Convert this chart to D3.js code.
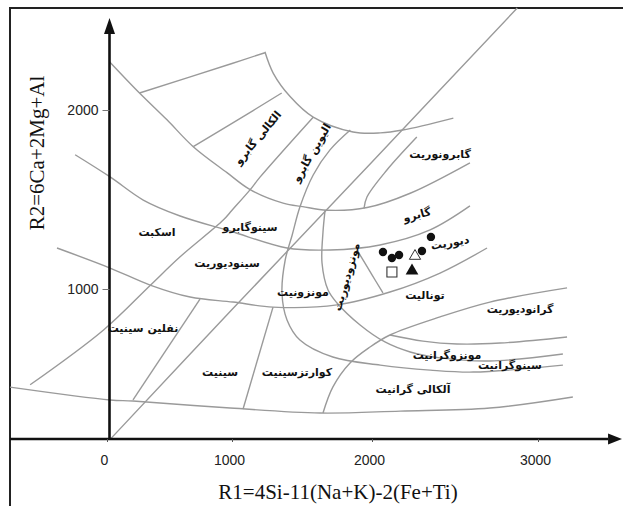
<!DOCTYPE html>
<html><head><meta charset="utf-8">
<script src="https://cdn.jsdelivr.net/npm/d3@7/dist/d3.min.js"></script>
<style>
html,body{margin:0;padding:0;background:#fff;}
svg{display:block;}
.fa{font-family:"DejaVu Sans",sans-serif;font-weight:bold;font-size:11px;fill:#111;}
</style></head>
<body>
<svg id="c" width="623" height="506"></svg>
<script>
// ---- tick labels ----
const xTicks = [0, 1000, 2000, 3000];
const yTicks = [1000, 2000];
const xTitle = "R1=4Si-11(Na+K)-2(Fe+Ti)";
const yTitle = "R2=6Ca+2Mg+Al";

// ---- field boundary curves (R1, R2) ----
const arcC = [[20,2270],[260,2095],[480,1945],[690,1795],[960,1650],[1130,1555],[1365,1480],[1505,1460],[1680,1440],[1965,1455],[2230,1535],[2590,1705]];
const lineA = [[260,2095],[1000,2260],[1235,2320]];
const lineB = [[690,1795],[1000,1925],[1355,2095]];
const arcD = [[1235,2325],[1295,2205],[1415,2075],[1580,1960],[1865,1877],[2050,1872],[2185,1888],[2490,1955]];
const lineDA = [[1580,1960],[1200,1625],[1130,1555],[1000,1440],[930,1385],[585,1180],[345,1020],[-30,770],[-615,465]];
const lineF = [[2875,2570],[2000,1710],[1000,885],[25,160]];
const arcK = [[1845,1888],[1700,1777],[1580,1637],[1485,1458],[1430,1302],[1380,1162],[1357,978],[1393,827],[1485,715],[1720,620],[2050,575],[2350,547],[2610,536],[3150,575]];
const arcM = [[1665,1441],[1650,1318],[1643,1145],[1686,994],[1750,922],[1915,799],[2078,704],[2230,648],[2410,615],[2710,598],[3150,637]];
const curve2 = [[1650,307],[1720,452],[1843,587],[1986,676],[2108,743],[2410,844],[2710,927],[3175,1006]];
const curve3 = [[2108,743],[2307,709],[2512,693],[2771,698],[3175,732]];
const lineN = [[2270,1849],[2090,1665],[1964,1514],[1943,1450]];
const lineP = [[1893,1218],[2000,1079],[2066,978]];
const curveE = [[-255,1750],[25,1626],[290,1497],[585,1408],[985,1324],[1393,1229],[1700,1218],[2048,1246],[2350,1330],[2590,1464]];
const curveG = [[-400,1229],[25,1117],[345,1022],[665,955],[1007,927],[1293,899],[1750,911],[2108,983],[2410,1089],[2693,1229]];
const curveH = [[-776,452],[25,380],[208,374],[985,335],[1630,307],[2170,318],[2710,335],[3210,397]];
const lineQ = [[744,944],[208,380]];
const lineR = [[1293,899],[1079,330]];
const boundaries = [arcC, lineA, lineB, arcD, lineDA, lineF, arcK, arcM, curve2, curve3, lineN, lineP, curveE, curveG, curveH, lineQ, lineR];

// ---- field names (R1, R2, angle) ----
const fieldNames = ["الکالی گابرو","الیوین گابرو","گابرونوریت","گابرو","دیوریت","تونالیت","گرانودیوریت","مونزوگرانیت","سینوگرانیت","آلکالی گرانیت","کوارتزسینیت","سینیت","مونزونیت","مونزودیوریت","سینودیوریت","سینوگابرو","اسکبت","نفلین سینیت"];
const fieldR1 = [1186,1571,2410,2271,2470,2319,2892,2452,2831,2247,1464,904,1507,1821,960,1129,400,288];
const fieldR2 = [1844,1760,1749,1413,1257,966,883,631,575,436,531,536,983,1067,1145,1346,1318,777];
const fieldAngle = [-50,-60,0,-15,-10,0,0,0,0,0,0,0,0,-74,0,0,0,0];

// ---- samples ----
const dotR1 = [2066,2355,2301,2120,2163];
const dotR2 = [1207,1291,1212,1173,1190];
const openTriR1 = [2259], openTriR2 = [1184];
const squareR1 = [2120], squareR2 = [1095];
const fillTriR1 = [2241], fillTriR2 = [1101];

// ---- axis placement values ----
const yAxisR1 = 20, xAxisR2 = 162;
const yAxisTop = 2514, yArrowBase = 2425;
const xAxisLeft = -776, xAxisRight = 3506, xArrowBase = 3422;

const svg = d3.select("#c");
const x = d3.scaleLinear().domain(xTicks).range([107,232,372,538]);
const y = d3.scaleLinear().domain(yTicks).range([289,110]);

// frame
svg.append("path").attr("d","M10,506 L10,8 L623,8").attr("fill","none").attr("stroke","#222").attr("stroke-width",2);

const line = d3.line().x(d=>x(d[0])).y(d=>y(d[1])).curve(d3.curveCatmullRom.alpha(0.5));
svg.append("g").selectAll("path").data(boundaries).join("path")
  .attr("d", line).attr("fill","none").attr("stroke","#9a9a9a").attr("stroke-width",1.4);

// axes lines
const ax = svg.append("g").attr("stroke","#111").attr("stroke-width",2.6);
ax.append("line").attr("x1",x(yAxisR1)).attr("x2",x(yAxisR1)).attr("y1",y(xAxisR2)).attr("y2",y(yArrowBase));
ax.append("line").attr("x1",x(xAxisLeft)).attr("x2",x(xArrowBase)).attr("y1",y(xAxisR2)).attr("y2",y(xAxisR2));
const ya = x(yAxisR1), yt = y(yAxisTop), yb = y(yArrowBase);
svg.append("path").attr("d",`M${ya},${yt} L${ya-5.5},${yb} L${ya+5.5},${yb} Z`).attr("fill","#111");
const xr = x(xAxisRight), xb = x(xArrowBase), xa = y(xAxisR2);
svg.append("path").attr("d",`M${xr},${xa} L${xb},${xa-5.5} L${xb},${xa+5.5} Z`).attr("fill","#111");

// ticks
const gx = svg.append("g").attr("transform",`translate(0,${y(xAxisR2)})`)
  .call(d3.axisBottom(x).tickValues(xTicks).tickSize(3).tickPadding(13).tickFormat(d3.format("d")));
gx.select(".domain").remove();
gx.selectAll("text").attr("font-family","Liberation Sans, Arial, sans-serif").attr("font-size",14).attr("fill","#222").attr("dx","-3");
gx.selectAll("line").attr("stroke","#555");
const gy = svg.append("g").attr("transform",`translate(${x(yAxisR1)},0)`)
  .call(d3.axisLeft(y).tickValues(yTicks).tickSize(7).tickPadding(4).tickFormat(d3.format("d")));
gy.select(".domain").remove();
gy.selectAll("text").attr("font-family","Liberation Sans, Arial, sans-serif").attr("font-size",14).attr("fill","#222");
gy.selectAll("line").attr("stroke","#777");

// titles
svg.append("text").attr("x",338).attr("y",499).attr("text-anchor","middle")
  .attr("font-family","Liberation Serif, Times New Roman, serif").attr("font-size",21).attr("fill","#111").text(xTitle);
svg.append("text").attr("transform","translate(44,153) rotate(-90)").attr("text-anchor","middle")
  .attr("font-family","Liberation Serif, Times New Roman, serif").attr("font-size",21).attr("fill","#111").text(yTitle);

// field names
svg.append("g").selectAll("text").data(fieldNames).join("text")
  .attr("class","fa").attr("text-anchor","middle").attr("dominant-baseline","central")
  .attr("transform",(d,i)=>`translate(${x(fieldR1[i])},${y(fieldR2[i])}) rotate(${fieldAngle[i]})`)
  .attr("direction","rtl")
  .text(d=>d);

// samples
const pts = svg.append("g");
pts.selectAll("circle").data(dotR1).join("circle")
  .attr("cx",d=>x(d)).attr("cy",(d,i)=>y(dotR2[i])).attr("r",4.2).attr("fill","#111");
pts.selectAll(".sq").data(squareR1).join("path").attr("class","sq")
  .attr("transform",(d,i)=>`translate(${x(d)},${y(squareR2[i])})`)
  .attr("d",d3.symbol(d3.symbolSquare,100)).attr("fill","#fff").attr("stroke","#333").attr("stroke-width",1.1);
pts.selectAll(".ft").data(fillTriR1).join("path").attr("class","ft")
  .attr("transform",(d,i)=>`translate(${x(d)},${y(fillTriR2[i])})`)
  .attr("d",d3.symbol(d3.symbolTriangle,70)).attr("fill","#111");
pts.selectAll(".ot").data(openTriR1).join("path").attr("class","ot")
  .attr("transform",(d,i)=>`translate(${x(d)},${y(openTriR2[i])})`)
  .attr("d",d3.symbol(d3.symbolTriangle,55)).attr("fill","#fff").attr("stroke","#333").attr("stroke-width",1);
</script>
</body></html>
